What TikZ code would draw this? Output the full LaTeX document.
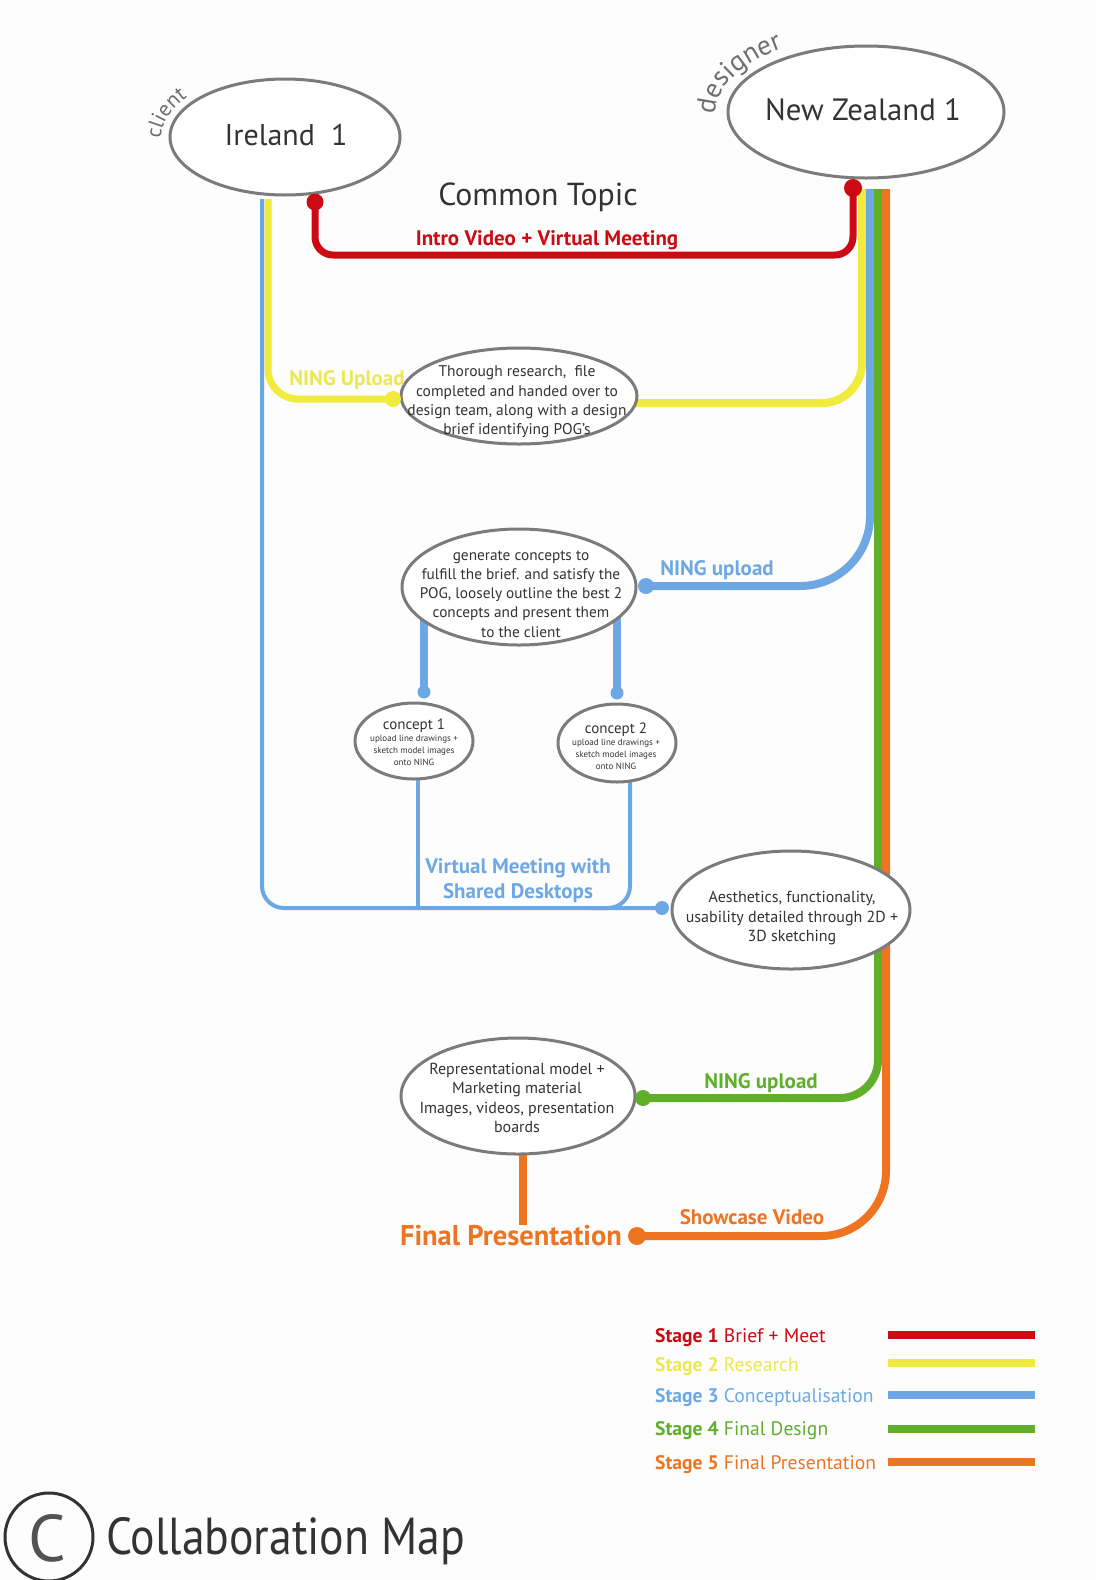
\documentclass[tikz,border=0pt]{standalone}
\usepackage{fontspec}
\usepackage{graphicx}
\setmainfont{PT Sans}
\usetikzlibrary{shapes.geometric,backgrounds,decorations.text}

\definecolor{paper}{HTML}{FDFDFD}
\definecolor{cred}{HTML}{CC0A14}
\definecolor{cyellow}{HTML}{F0EB3C}
\definecolor{cyellowtxt}{HTML}{ECE852}
\definecolor{cblue}{HTML}{6EA8E4}
\definecolor{cgreen}{HTML}{5FAF2A}
\definecolor{corange}{HTML}{EE7422}
\definecolor{outline}{HTML}{7B7B7B}
\definecolor{ink}{HTML}{333333}
\definecolor{curveink}{HTML}{6E6E6E}

\newcommand\fsz[2]{\fontsize{#1pt}{#2pt}\selectfont}

\tikzset{
  bubble/.style={ellipse, draw=outline, line width=3pt, fill=white, inner sep=0pt, outer sep=0pt},
  bubbletext/.style={align=center, text=ink, inner sep=0pt, font=\fsz{16}{19.5}},
  stopdot/.style={circle, fill=#1, inner sep=0pt, outer sep=0pt},
  lane/.style={line cap=butt, line join=round},
  tag/.style={inner sep=0pt, font=\bfseries\fsz{21}{25}, align=center},
  legendtext/.style={anchor=west, inner sep=0pt, font=\fsz{19.6}{22}},
  legendbar/.style={line width=8pt},
}

\begin{document}
\begin{tikzpicture}[x=1pt,y=-1pt]
\useasboundingbox (0,0) rectangle (1096,1580);

% ---- places ----
\node[bubble, minimum width=230pt, minimum height=116pt] (ire) at (285,137) {};
\node[inner sep=0pt, text=ink, font=\fsz{30}{34}] (ire-t) at (286,135) {Ireland\ \ 1};
\node[bubble, minimum width=276pt, minimum height=132pt] (nz) at (866,112) {};
\node[inner sep=0pt, text=ink, font=\fsz{30.8}{34}] (nz-t) at (863,110) {New Zealand 1};

\node[bubble, minimum width=236pt, minimum height=96pt] (res) at (519,396) {};
\node[bubbletext, font=\fsz{15.5}{19.3}] (res-t) at (517,402) {Thorough research,\ \ file\\completed and handed over to\\design team, along with a design\\brief identifying POG's};

\node[bubble, minimum width=234pt, minimum height=116pt] (gen) at (519,587) {};
\node[bubbletext, font=\fsz{15.3}{19.3}] (gen-t) at (521,594) {generate concepts to\\fulfill the brief. and satisfy the\\POG, loosely outline the best 2\\concepts and present them\\to the client};

\node[bubble, minimum width=118pt, minimum height=76pt] (con1) at (414,741) {};
\node[inner sep=0pt, text=ink, font=\fsz{15}{17}] (con1-h) at (414,726) {concept 1};
\node[bubbletext, font=\fsz{9}{12}] (con1-t) at (414,750) {upload line drawings +\\sketch model images\\onto NING};
\node[bubble, minimum width=118pt, minimum height=78pt] (con2) at (617,743) {};
\node[inner sep=0pt, text=ink, font=\fsz{15}{17}] (con2-h) at (616,730) {concept 2};
\node[bubbletext, font=\fsz{9}{12}] (con2-t) at (616,754) {upload line drawings +\\sketch model images\\onto NING};

\node[bubble, minimum width=238pt, minimum height=118pt] (aes) at (791,910) {};
\node[bubbletext] (aes-t) at (792,918) {Aesthetics, functionality,\\usability detailed through 2D +\\3D sketching};

\node[bubble, minimum width=234pt, minimum height=116pt] (fin) at (518,1096) {};
\node[bubbletext] (fin-t) at (517,1098) {Representational model +\\Marketing material\\Images, videos, presentation\\boards};

% ---- titles and lane labels ----
\node[inner sep=0pt, text=ink, font=\fsz{31.8}{36}] (topic) at (538,197) {Common Topic};
\node[tag, text=cred] (intro) at (547,240) {Intro Video + Virtual Meeting};
\node[tag, text=cyellowtxt] (ning-y) at (347,380) {NING Upload};
\node[tag, text=cblue] (ning-b) at (717,570) {NING upload};
\node[tag, text=cblue] (vm) at (518,881) {Virtual Meeting with\\Shared Desktops};
\node[tag, text=cgreen] (ning-g) at (761,1083) {NING upload};
\node[tag, text=corange] (show) at (752,1217) {Showcase Video};
\node[inner sep=0pt, text=corange, font=\bfseries\fsz{28.5}{32}] (finpres) at (511,1236) {Final Presentation};

% ---- curved role names ----
\path[decorate, decoration={text along path, text align=left,
  text={|\fsz{21.5}{24}\color{curveink}|client}}]
  (161,139) arc[start angle=180, end angle=265, x radius=124, y radius=68];
\path[decorate, decoration={text along path, text align=left,
  text={|\fsz{27.5}{30}\color{curveink}|designer}}]
  (715,115) arc[start angle=180, end angle=268, x radius=151, y radius=80];

% ---- lane ends ----
\coordinate (ireB) at (262,199);
\coordinate (ireY) at (268,199);
\coordinate (nzY) at (862,189);
\coordinate (nzB) at (870,189);
\coordinate (nzG) at (878,189);
\coordinate (nzO) at (886,189);
\coordinate (redlvl) at (0,255);

% ---- stops ----
\node[stopdot=cred, minimum size=17pt] (r1) at (315,202) {};
\node[stopdot=cred, minimum size=18pt] (r2) at (853,188) {};
\node[stopdot=cyellow, minimum size=16pt] (y1) at (393,399) {};
\node[stopdot=cblue, minimum size=16pt] (b1) at (646,586) {};
\node[stopdot=cblue, minimum size=13pt] (b2) at (424,692) {};
\node[stopdot=cblue, minimum size=13pt] (b3) at (617,693) {};
\node[stopdot=cblue, minimum size=14pt] (b4) at (662,908) {};
\node[stopdot=cgreen, minimum size=16pt] (g1) at (643,1098) {};
\node[stopdot=corange, minimum size=18pt] (o1) at (637,1236) {};

% ---- legend ----
\node[legendtext, text=cred] (lg1) at (655,1338) {\textbf{Stage 1} Brief + Meet};
\node[legendtext, text=cyellowtxt] (lg2) at (655,1367) {\textbf{Stage 2} Research};
\node[legendtext, text=cblue] (lg3) at (655,1398) {\textbf{Stage 3} Conceptualisation};
\node[legendtext, text=cgreen] (lg4) at (655,1431) {\textbf{Stage 4} Final Design};
\node[legendtext, text=corange] (lg5) at (655,1465) {\textbf{Stage 5} Final Presentation};
\coordinate (k1a) at (888,1335); \coordinate (k1b) at (1035,1335);
\coordinate (k2a) at (888,1363); \coordinate (k2b) at (1035,1363);
\coordinate (k3a) at (888,1395); \coordinate (k3b) at (1035,1395);
\coordinate (k4a) at (888,1429); \coordinate (k4b) at (1035,1429);
\coordinate (k5a) at (888,1462); \coordinate (k5b) at (1035,1462);
\draw[legendbar, cred] (k1a) -- (k1b);
\draw[legendbar, cyellow] (k2a) -- (k2b);
\draw[legendbar, cblue] (k3a) -- (k3b);
\draw[legendbar, cgreen] (k4a) -- (k4b);
\draw[legendbar, corange] (k5a) -- (k5b);

% ---- title ----
\node[circle, draw=ink, line width=3pt, minimum size=88pt, inner sep=0pt] (logo) at (49,1537) {};
\node[inner sep=0pt, text=ink!85, font=\fsz{66}{70}] (logo-c) at (47,1538) {C};
\node[anchor=west, inner sep=0pt, text=ink, font=\fsz{52}{56}] (maptitle) at (106,1541) {\scalebox{0.88}[1]{Collaboration Map}};

% ---- lanes ----
\begin{pgfonlayer}{background}
\fill[paper] (0,0) rectangle (1096,1580);
% stage 1
\draw[lane, cred, line width=7pt, rounded corners=18pt]
  (r1.center) -- (r1.center |- redlvl) -- (r2.center |- redlvl) -- (r2.center);
% stage 2
\draw[lane, cyellow, line width=7pt, rounded corners=30pt] (ireY) |- (y1.center);
\draw[lane, cyellow, line width=8pt, rounded corners=40pt] (nzY) |- ([shift={(-6,7)}]res.east);
% stage 3
\draw[lane, cblue, line width=4pt, rounded corners=22pt] (ireB) |- (b4.center);
\draw[lane, cblue, line width=8pt, rounded corners=70pt] (nzB) |- (b1.center);
\draw[lane, cblue, line width=8pt] (b2.center |- gen.center) -- (b2.center);
\draw[lane, cblue, line width=8pt] (b3.center |- gen.center) -- (b3.center);
\draw[lane, cblue, line width=4pt] ([xshift=4pt]con1.center) -- ([xshift=4pt]con1.center |- b4.center);
\draw[lane, cblue, line width=4pt, rounded corners=22pt]
  ([xshift=13pt]con2.center) -- ([xshift=13pt]con2.center |- b4.center) -- ++(-40,0);
% stage 4
\draw[lane, cgreen, line width=8pt, rounded corners=38pt] (nzG) |- (g1.center);
% stage 5
\draw[lane, corange, line width=8pt, rounded corners=65pt] (nzO) |- (o1.center);
\draw[lane, corange, line width=8pt] ([xshift=5pt]fin.center) -- ([xshift=5pt]fin.center |- finpres.north);
\end{pgfonlayer}
\end{tikzpicture}
\end{document}
